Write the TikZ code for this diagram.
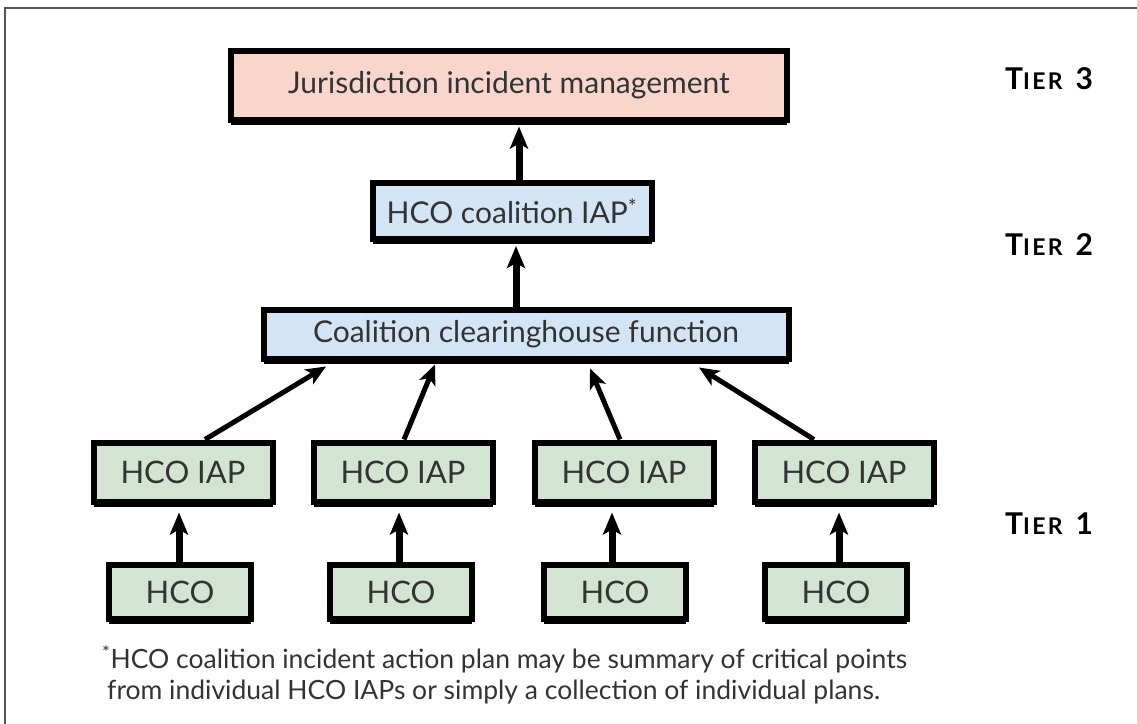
\documentclass[tikz,border=0pt]{standalone}
\usepackage{fontspec}
\setmainfont{Lato}
\usetikzlibrary{arrows.meta,shadows}
\definecolor{pinkf}{HTML}{F8D6CC}
\definecolor{bluef}{HTML}{D3E5F5}
\definecolor{greenf}{HTML}{D3E5D2}
\definecolor{txt}{HTML}{333333}
\definecolor{framec}{HTML}{555555}
\newcommand{\tierlabel}[1]{{\addfontfeature{LetterSpace=10}T{\fontsize{23}{25}\selectfont IER}}\hspace{13pt}#1}
\begin{document}
\begin{tikzpicture}[x=1pt,y=-1pt,
  box/.style={draw=black, line width=6pt, text=txt, inner sep=0pt,
    font=\fontsize{30}{32}\selectfont,
    drop shadow={shadow xshift=0pt, shadow yshift=-5pt, fill=black, opacity=1}},
  pinkbox/.style={box, fill=pinkf},
  bluebox/.style={box, fill=bluef},
  greenbox/.style={box, fill=greenf, font=\fontsize{31}{33}\selectfont},
  thickarr/.style={line width=7pt, -{Stealth[length=22pt,width=18pt,inset=5pt]}},
  thinarr/.style={line width=5pt, -{Stealth[length=20pt,width=17pt,inset=5pt]}},
  tier/.style={font=\bfseries\fontsize{30}{32}\selectfont, anchor=west, inner sep=0pt}
]
\useasboundingbox (0,0) rectangle (1137,723);
\fill[white] (0,0) rectangle (1137,723);
\begin{scope}
\clip (0,0) rectangle (1137,723);
\draw[framec, line width=2pt] (5,8) rectangle (1150,740);
\end{scope}

\node[pinkbox, minimum width=556pt, minimum height=69pt] (top) at (509,85) {Jurisdiction incident management};
\node[bluebox, minimum width=279pt, minimum height=56pt] (coal) at (512,211) {HCO coalition IAP\textsuperscript{*}};
\node[bluebox, minimum width=525pt, minimum height=49pt] (clear) at (526,334) {Coalition clearinghouse function};

\node[greenbox, minimum width=179pt, minimum height=59pt] (iap1) at (183,472) {HCO IAP};
\node[greenbox, minimum width=179pt, minimum height=59pt] (iap2) at (403,472) {HCO IAP};
\node[greenbox, minimum width=179pt, minimum height=59pt] (iap3) at (624,472) {HCO IAP};
\node[greenbox, minimum width=179pt, minimum height=59pt] (iap4) at (844,472) {HCO IAP};

\node[greenbox, minimum width=142pt, minimum height=54pt] (hco1) at (180,592) {HCO};
\node[greenbox, minimum width=142pt, minimum height=54pt] (hco2) at (401,592) {HCO};
\node[greenbox, minimum width=142pt, minimum height=54pt] (hco3) at (615,592) {HCO};
\node[greenbox, minimum width=142pt, minimum height=54pt] (hco4) at (836,592) {HCO};

\draw[thickarr] ([xshift=7pt]coal.north) -- ([xshift=7pt,yshift=-4pt]coal.north |- top.south);
\draw[thickarr] ([xshift=-10pt]clear.north) -- ([xshift=-10pt,yshift=-4pt]clear.north |- coal.south);

\draw[thinarr] ([xshift=22pt]iap1.north) -- ([xshift=-200pt,yshift=-5pt]clear.south);
\draw[thinarr] ([xshift=1pt]iap2.north) -- ([xshift=-91pt,yshift=-3pt]clear.south);
\draw[thinarr] ([xshift=-4pt]iap3.north) -- ([xshift=64pt,yshift=-7pt]clear.south);
\draw[thinarr] ([xshift=-30pt]iap4.north) -- ([xshift=173pt,yshift=-6pt]clear.south);

\draw[thickarr] ([xshift=-1pt]hco1.north) -- ([xshift=-1pt,yshift=-8pt]hco1.north |- iap1.south);
\draw[thickarr] ([xshift=-2pt]hco2.north) -- ([xshift=-2pt,yshift=-8pt]hco2.north |- iap2.south);
\draw[thickarr] ([xshift=-3pt]hco3.north) -- ([xshift=-3pt,yshift=-8pt]hco3.north |- iap3.south);
\draw[thickarr] ([xshift=3pt]hco4.north) -- ([xshift=3pt,yshift=-8pt]hco4.north |- iap4.south);

\node[tier] (t3) at (1005,79) {\tierlabel{3}};
\node[tier] (t2) at (1005,245) {\tierlabel{2}};
\node[tier] (t1) at (1005,524) {\tierlabel{1}};

\node[anchor=west, align=left, inner sep=0pt, text=txt, font=\fontsize{26.5}{31}\selectfont] (note) at (102,675)
  {\textsuperscript{*}HCO coalition incident action plan may be summary of critical points\\
   \hspace*{5pt}from individual HCO IAPs or simply a collection of individual plans.};
\end{tikzpicture}
\end{document}
